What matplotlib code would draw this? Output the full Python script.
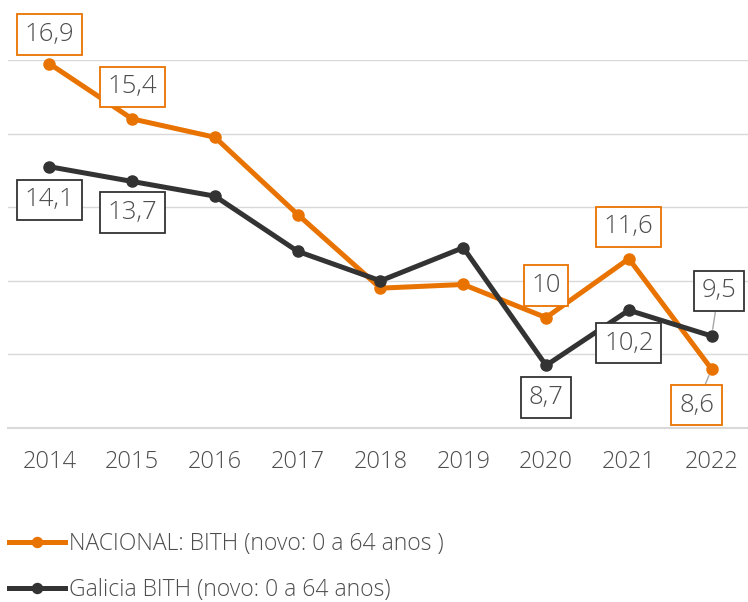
import matplotlib.pyplot as plt
import numpy as np

# %% Data
years = ["2014", "2015", "2016", "2017", "2018", "2019", "2020", "2021", "2022"]
nacional = [16.9, 15.4, 14.9, 12.8, 10.8, 10.9, 10.0, 11.6, 8.6]
galicia = [14.1, 13.7, 13.3, 11.8, 11.0, 11.9, 8.7, 10.2, 9.5]
nacional_name = "NACIONAL: BITH (novo: 0 a 64 anos )"
galicia_name = "Galicia BITH (novo: 0 a 64 anos)"

# which points get a label, and the label text
nacional_labels = {0: "16,9", 1: "15,4", 6: "10", 7: "11,6", 8: "8,6"}
galicia_labels = {0: "14,1", 1: "13,7", 6: "8,7", 7: "10,2", 8: "9,5"}

ORANGE = "#E97300"
DARK = "#333333"
TEXT = "#4D4D4D"
GRID = "#D9D9D9"

plt.rcParams["font.family"] = ["Open Sans", "DejaVu Sans"]
plt.rcParams["font.weight"] = "light"

# %% Plot
fig = plt.figure(figsize=(7.48, 6.02), dpi=100)
ax = fig.add_axes([8 / 748, 174 / 602, 745 / 748, 368 / 602])

x = np.arange(len(years))
ax.plot(x, nacional, color=ORANGE, lw=3.6, marker="o", ms=8, clip_on=False,
        label=nacional_name, zorder=3)
ax.plot(x, galicia, color=DARK, lw=3.6, marker="o", ms=8, clip_on=False,
        label=galicia_name, zorder=3)

ax.set_xlim(-0.5, 8.5)
ax.set_ylim(7, 17)
ax.set_yticks([7, 9, 11, 13, 15, 17])
ax.yaxis.grid(True, color=GRID, lw=1)
ax.set_axisbelow(True)
ax.tick_params(axis="y", left=False, labelleft=False)
ax.set_xticks(x, labels=years)
ax.tick_params(axis="x", length=0, pad=16, labelsize=17, labelcolor=TEXT)

for side in ["left", "right", "top"]:
    ax.spines[side].set_visible(False)
ax.spines["bottom"].set_color(GRID)
ax.spines["bottom"].set_linewidth(1.5)


def add_labels(values, labels, color, offsets):
    for i, txt in labels.items():
        dx, dy = offsets.get(i, (0, 0))
        leader = dict(arrowstyle="-", color="#A6A6A6", lw=1, shrinkA=0, shrinkB=5) if i == 8 else None
        ax.annotate(
            txt, (x[i], values[i]), xytext=(dx * 0.72, dy * 0.72),
            textcoords="offset points", ha="center", va="center",
            fontsize=18.5, color=TEXT, annotation_clip=False, zorder=5,
            arrowprops=leader,
            bbox=dict(boxstyle="square,pad=0.3", fc="white", ec=color, lw=1.3),
        )


# offsets in pixels (dx, dy up)
add_labels(nacional, nacional_labels, ORANGE,
           {0: (0, 29), 1: (0, 32), 6: (0, 32), 7: (0, 32), 8: (-15, -36)})
add_labels(galicia, galicia_labels, DARK,
           {0: (0, -33), 1: (0, -31), 6: (0, -32), 7: (0, -33), 8: (7, 45)})

ax.legend(loc="upper left", bbox_to_anchor=(9 / 748, 70 / 602),
          bbox_transform=fig.transFigure, frameon=False, fontsize=16.5,
          labelcolor=TEXT, handlelength=2.45, handletextpad=0.15,
          labelspacing=0.95, borderpad=0, borderaxespad=0, markerscale=0.9)

plt.savefig("out.png", dpi=100)
